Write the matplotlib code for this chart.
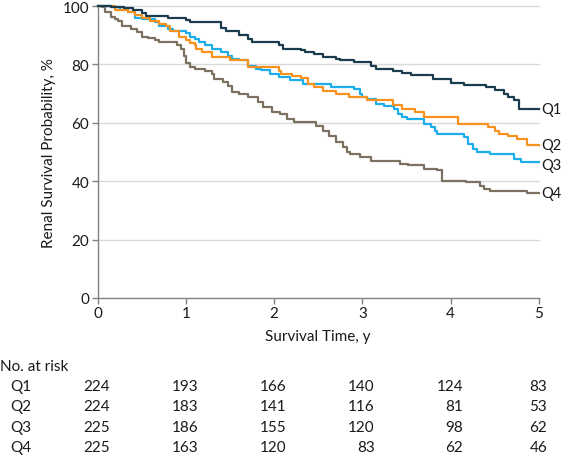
import matplotlib
matplotlib.use("Agg")
import matplotlib.pyplot as plt
import matplotlib.transforms as mtransforms

plt.rcParams['font.family'] = ['Lato', 'DejaVu Sans']

groups = ["Q1", "Q2", "Q3", "Q4"]
colors = {"Q1": "#1b3c4e", "Q2": "#f7921e", "Q3": "#1caeea", "Q4": "#7c7160"}

q1_t = [0, 0.15, 0.3, 0.4, 0.5, 0.55, 0.8, 1.0, 1.05, 1.4, 1.45, 1.6, 1.7, 1.75, 2.05, 2.1, 2.3, 2.35,
        2.45, 2.55, 2.7, 2.75, 2.9, 3.1, 3.15, 3.35, 3.45, 3.55, 3.8, 4.0, 4.15, 4.4, 4.5, 4.6, 4.65,
        4.72, 4.77]
q1_v = [100, 99.6, 99.2, 98.6, 97.5, 96.6, 96.0, 95.1, 94.4, 92.5, 91.3, 90.0, 88.8, 87.7, 86.5, 85.4,
        85.0, 84.3, 83.5, 82.7, 82.0, 81.4, 80.8, 79.6, 78.3, 77.8, 77.0, 76.3, 75.1, 73.8, 73.1, 72.3,
        71.1, 70.0, 68.8, 67.7, 64.8]

q2_t = [0, 0.2, 0.35, 0.42, 0.5, 0.6, 0.7, 0.78, 0.82, 0.92, 1.0, 1.05, 1.1, 1.12, 1.18, 1.3, 1.5, 1.7,
        2.05, 2.08, 2.2, 2.3, 2.38, 2.45, 2.55, 2.7, 2.85, 3.05, 3.35, 3.45, 3.6, 3.7, 4.08, 4.42, 4.5,
        4.55, 4.65, 4.75, 4.87]
q2_v = [100, 98.5, 98.0, 97.0, 96.0, 95.0, 94.0, 93.0, 91.5, 89.5, 88.5, 87.5, 86.5, 85.4, 84.3, 82.6,
        81.4, 79.2, 77.9, 76.8, 76.0, 75.5, 73.4, 72.4, 71.0, 70.0, 68.8, 67.7, 66.0, 64.8, 63.7, 62.0,
        59.7, 58.6, 57.3, 56.3, 55.6, 54.5, 52.5]

q3_t = [0, 0.15, 0.25, 0.35, 0.42, 0.5, 0.65, 0.7, 0.8, 0.85, 1.0, 1.05, 1.1, 1.15, 1.22, 1.3, 1.4,
        1.48, 1.52, 1.6, 1.7, 1.8, 1.85, 1.95, 2.05, 2.18, 2.33, 2.65, 2.9, 2.97, 3.0, 3.05, 3.15, 3.25,
        3.36, 3.4, 3.45, 3.5, 3.7, 3.78, 3.82, 3.85, 4.15, 4.2, 4.25, 4.3, 4.45, 4.72, 4.8]
q3_v = [100, 99.5, 98.5, 98.0, 96.0, 95.5, 94.5, 93.3, 92.3, 91.6, 90.6, 89.5, 88.8, 87.8, 86.6, 85.4,
        84.4, 83.0, 82.0, 81.4, 79.6, 78.6, 78.0, 76.8, 75.8, 74.5, 73.4, 72.4, 71.7, 70.0, 68.8, 68.3,
        66.6, 65.9, 64.8, 63.1, 62.1, 61.4, 59.7, 58.6, 57.3, 56.3, 55.2, 52.8, 51.1, 50.1, 49.4, 47.7,
        46.6]

q4_t = [0, 0.05, 0.09, 0.15, 0.2, 0.23, 0.28, 0.38, 0.45, 0.5, 0.57, 0.65, 0.7, 0.9, 0.95, 0.98, 1.0,
        1.05, 1.1, 1.22, 1.3, 1.32, 1.42, 1.48, 1.52, 1.6, 1.7, 1.82, 1.88, 1.98, 2.07, 2.15, 2.23, 2.47,
        2.55, 2.62, 2.7, 2.78, 2.83, 2.86, 2.97, 3.1, 3.43, 3.52, 3.7, 3.85, 3.9, 4.17, 4.33, 4.38, 4.45,
        4.87]
q4_v = [100, 99.5, 98.0, 96.2, 95.7, 94.7, 93.3, 92.3, 91.2, 89.5, 88.9, 88.2, 87.8, 86.5, 85.4, 83.0,
        80.5, 79.2, 78.6, 77.9, 76.8, 75.1, 74.1, 72.7, 70.7, 70.0, 69.0, 67.2, 65.5, 63.8, 63.1, 61.4,
        60.4, 59.0, 57.3, 55.6, 53.5, 51.8, 50.1, 49.4, 48.4, 46.8, 46.0, 45.4, 44.3, 43.7, 40.0, 39.6,
        38.4, 37.4, 36.6, 36.0]

curves = {"Q1": (q1_t, q1_v), "Q2": (q2_t, q2_v), "Q3": (q3_t, q3_v), "Q4": (q4_t, q4_v)}

risk_times = [0, 1, 2, 3, 4, 5]
risk_q1 = [224, 193, 166, 140, 124, 83]
risk_q2 = [224, 183, 141, 116, 81, 53]
risk_q3 = [225, 186, 155, 120, 98, 62]
risk_q4 = [225, 163, 120, 83, 62, 46]
risk = {"Q1": risk_q1, "Q2": risk_q2, "Q3": risk_q3, "Q4": risk_q4}

x_ticks = [0, 1, 2, 3, 4, 5]
y_ticks = [0, 20, 40, 60, 80, 100]
t_end = 5

fig = plt.figure(figsize=(5.62, 4.56), dpi=100)
ax = fig.add_axes([0.1735, 0.3443, 0.7855, 0.6403])
ax.set_xlim(0, 5)
ax.set_ylim(0, 100)

for y in y_ticks[1:]:
    ax.axhline(y, color="#d9d9d9", lw=1.0, zorder=0, clip_on=False)

draw_order = ["Q4", "Q3", "Q2", "Q1"]
for g in draw_order:
    t, v = curves[g]
    ax.step(list(t) + [t_end], list(v) + [v[-1]], where="post", color=colors[g], lw=1.6,
            clip_on=False, zorder=3)

label_offsets = {"Q1": 0, "Q2": 0, "Q3": -1.2, "Q4": 0}
for g in groups:
    t, v = curves[g]
    ax.text(t_end + 0.03, v[-1] + label_offsets[g], g, fontsize=10.5, va="center", ha="left",
            color="#1a1a1a", clip_on=False)

for side in ["top", "right"]:
    ax.spines[side].set_visible(False)
for side in ["left", "bottom"]:
    ax.spines[side].set_color("#808080")
    ax.spines[side].set_linewidth(1.0)

ax.set_xticks(x_ticks)
ax.set_yticks(y_ticks)
ax.tick_params(axis="both", colors="#808080", length=4, width=1.0, labelsize=11,
               labelcolor="#1a1a1a", pad=2)
ax.set_xlabel("Survival Time, y", fontsize=11, color="#1a1a1a", labelpad=6)
ax.set_ylabel("Renal Survival Probability, %", fontsize=11, color="#1a1a1a", labelpad=5)

trans = mtransforms.blended_transform_factory(ax.transData, fig.transFigure)
fig.text(0.0, 0.195, "No. at risk", fontsize=11, va="center", ha="left", color="#1a1a1a")
row_y = {"Q1": 0.151, "Q2": 0.107, "Q3": 0.062, "Q4": 0.018}
for g in groups:
    fig.text(0.018, row_y[g], g, fontsize=11, va="center", ha="left", color="#1a1a1a")
    for t, n in zip(risk_times, risk[g]):
        off = 0.095 if t == 5 else 0.14
        ax.text(t + off, row_y[g], str(n), fontsize=11, va="center", ha="right",
                color="#1a1a1a", transform=trans, clip_on=False)

fig.savefig("out.png", dpi=100)
